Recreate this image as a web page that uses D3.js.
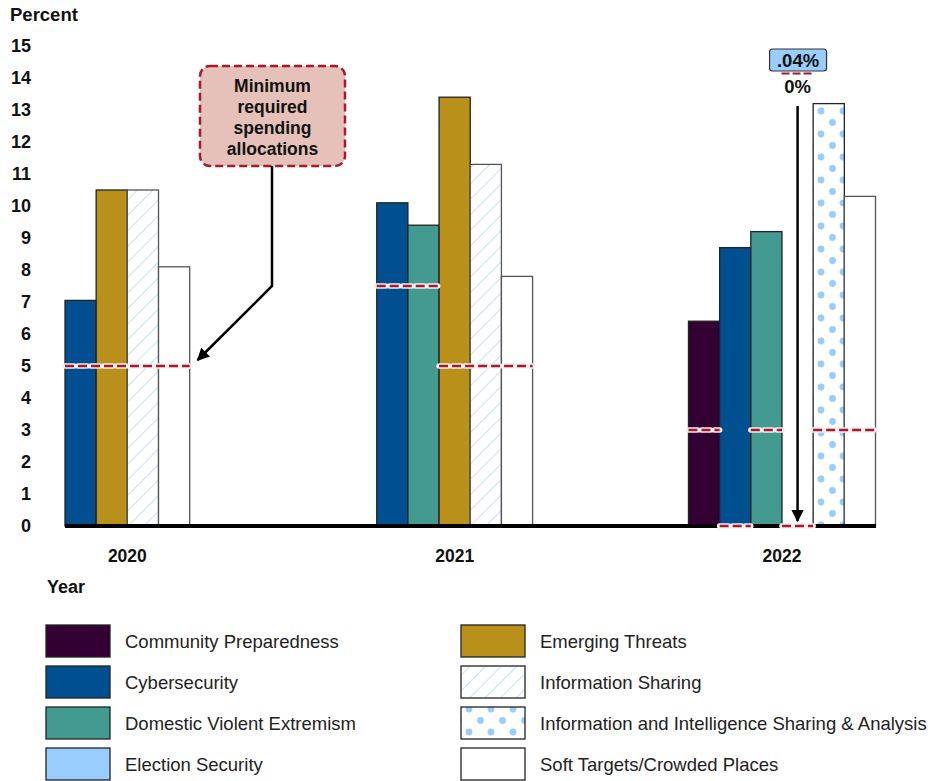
<!DOCTYPE html>
<html>
<head>
<meta charset="utf-8">
<script src="https://cdn.jsdelivr.net/npm/d3@7"></script>
<style>
  body { margin: 0; background: #fff; }
  svg { font-family: "Liberation Sans", Arial, sans-serif; }
</style>
</head>
<body>
<svg id="chart" width="946" height="781"></svg>
<script>
// data
const years = ['2020', '2021', '2022'];
const categories = ['Community Preparedness', 'Cybersecurity', 'Domestic Violent Extremism', 'Election Security',
  'Emerging Threats', 'Information Sharing', 'Information and Intelligence Sharing & Analysis', 'Soft Targets/Crowded Places'];
const colors = ['#330033', '#004f90', '#439a91', '#99ccff', '#b8901a', 'url(#hatch)', 'url(#dots)', '#ffffff'];

const cats2020 = ['Cybersecurity', 'Emerging Threats', 'Information Sharing', 'Soft Targets/Crowded Places'];
const vals2020 = [7.05, 10.5, 10.5, 8.1];
const min2020 = [5, 5, 5, 5];
const cats2021 = ['Cybersecurity', 'Domestic Violent Extremism', 'Emerging Threats', 'Information Sharing', 'Soft Targets/Crowded Places'];
const vals2021 = [10.1, 9.4, 13.4, 11.3, 7.8];
const min2021 = [7.5, 7.5, 5, 5, 5];
const cats2022 = ['Community Preparedness', 'Cybersecurity', 'Domestic Violent Extremism', 'Election Security',
  'Information and Intelligence Sharing & Analysis', 'Soft Targets/Crowded Places'];
const vals2022 = [6.4, 8.7, 9.2, 0.04, 13.2, 10.3];
const min2022 = [3, 0, 3, 0, 3, 3];
const yTicks = d3.range(0, 16);

const groups = [
  {year: '2020', cats: cats2020, vals: vals2020, mins: min2020},
  {year: '2021', cats: cats2021, vals: vals2021, mins: min2021},
  {year: '2022', cats: cats2022, vals: vals2022, mins: min2022}
];

const svg = d3.select('#chart');
const red = '#a6192e';

// patterns
const defs = svg.append('defs');
const hatch = defs.append('pattern').attr('id', 'hatch').attr('patternUnits', 'userSpaceOnUse')
  .attr('width', 11).attr('height', 11).attr('patternTransform', 'rotate(45)');
hatch.append('rect').attr('width', 11).attr('height', 11).attr('fill', '#fff');
hatch.append('line').attr('x1', 0).attr('y1', 0).attr('x2', 0).attr('y2', 11)
  .attr('stroke', '#a8d0f7').attr('stroke-width', 1.3);
const dots = defs.append('pattern').attr('id', 'dots').attr('patternUnits', 'userSpaceOnUse')
  .attr('width', 22).attr('height', 23);
dots.append('rect').attr('width', 22).attr('height', 23).attr('fill', '#fff');
dots.append('circle').attr('cx', 7).attr('cy', 19).attr('r', 3.4).attr('fill', '#99ccff');
dots.append('circle').attr('cx', 18.5).attr('cy', 7.5).attr('r', 3.4).attr('fill', '#99ccff');
defs.append('marker').attr('id', 'arrow').attr('viewBox', '0 0 10 10').attr('refX', 9).attr('refY', 5)
  .attr('markerWidth', 5).attr('markerHeight', 5).attr('orient', 'auto-start-reverse')
  .append('path').attr('d', 'M0,0 L10,5 L0,10 z').attr('fill', '#000');

// scales
const y = d3.scaleLinear().domain([0, 15]).range([526, 46]);
const x0 = d3.scaleBand().domain(years).range([65, 875.5]).paddingInner(0.4).paddingOuter(0);
const slot = x0.bandwidth() / 6;
const color = d3.scaleOrdinal().domain(categories).range(colors);

// y axis labels
svg.append('g').attr('transform', 'translate(31,0)')
  .call(d3.axisLeft(y).tickValues(yTicks).tickSize(0).tickPadding(0))
  .call(g => g.select('.domain').remove())
  .selectAll('text').attr('font-size', 18).attr('font-weight', 'bold').attr('fill', '#111')
  .attr('font-family', '"Liberation Sans", Arial, sans-serif');

svg.append('text').attr('x', 10).attr('y', 21).text('Percent')
  .attr('font-size', 18.5).attr('font-weight', 'bold').attr('fill', '#111');

// bars
groups.forEach(g => {
  const x1 = d3.scaleBand().domain(g.cats).range([x0(g.year), x0(g.year) + slot * g.cats.length]);
  const gg = svg.append('g');
  gg.selectAll('rect').data(g.cats.map((c, i) => ({c, v: g.vals[i]})).filter(d => d.v > 0.1))
    .join('rect')
    .attr('x', d => x1(d.c)).attr('width', x1.bandwidth())
    .attr('y', d => y(d.v)).attr('height', d => y(0) - y(d.v))
    .attr('fill', d => color(d.c))
    .attr('stroke', d => ['Information Sharing', 'Soft Targets/Crowded Places'].includes(d.c) ? '#555' : '#222')
    .attr('stroke-width', 1.3);

  svg.append('text').attr('x', x0(g.year) + slot * g.cats.length / 2).attr('y', 562)
    .attr('text-anchor', 'middle').attr('font-size', 17.5).attr('font-weight', 'bold').attr('fill', '#111')
    .text(g.year);
  g.x1 = x1;
});

// baseline
svg.append('line').attr('x1', 65).attr('x2', 876).attr('y1', y(0)).attr('y2', y(0))
  .attr('stroke', '#000').attr('stroke-width', 4);

// minimum required lines
groups.forEach(g => {
  const segs = [];
  g.cats.forEach((c, i) => {
    const last = segs[segs.length - 1];
    if (last && last.m === g.mins[i]) last.x2 = g.x1(c) + g.x1.bandwidth();
    else segs.push({m: g.mins[i], x1: g.x1(c), x2: g.x1(c) + g.x1.bandwidth()});
  });
  const ml = svg.append('g');
  ml.selectAll('line.halo').data(segs).join('line').attr('class', 'halo')
    .attr('x1', d => d.x1).attr('x2', d => d.x2).attr('y1', d => y(d.m)).attr('y2', d => y(d.m))
    .attr('stroke', '#f4eeee').attr('stroke-width', 5.5).attr('stroke-dasharray', '9,4').attr('stroke-linecap', 'round');
  ml.selectAll('line.red').data(segs).join('line').attr('class', 'red')
    .attr('x1', d => d.x1).attr('x2', d => d.x2).attr('y1', d => y(d.m)).attr('y2', d => y(d.m))
    .attr('stroke', red).attr('stroke-width', 2.6).attr('stroke-dasharray', '9,4');
});

// annotation box
const ann = svg.append('g');
ann.append('rect').attr('x', 200).attr('y', 66).attr('width', 145).attr('height', 100).attr('rx', 10)
  .attr('fill', '#e5c1b9').attr('stroke', red).attr('stroke-width', 2.5).attr('stroke-dasharray', '8,4');
['Minimum', 'required', 'spending', 'allocations'].forEach((t, i) => {
  ann.append('text').attr('x', 272.5).attr('y', 92 + i * 21).attr('text-anchor', 'middle')
    .attr('font-size', 17.5).attr('font-weight', 'bold').attr('fill', '#111').text(t);
});
ann.append('path').attr('d', `M272,166 L272,286 L${x0('2020') + slot * 4 + 8},${y(5) - 6}`)
  .attr('fill', 'none').attr('stroke', '#000').attr('stroke-width', 2.5).attr('marker-end', 'url(#arrow)');

// election security callout
const esx = groups[2].x1('Election Security') + slot / 2;
svg.append('rect').attr('x', esx - 28).attr('y', 49).attr('width', 57).attr('height', 22).attr('rx', 3)
  .attr('fill', '#99ccff').attr('stroke', '#333').attr('stroke-width', 1.2);
svg.append('text').attr('x', esx + 0.5).attr('y', 66.5).attr('text-anchor', 'middle')
  .attr('font-size', 18.5).attr('font-weight', 'bold').attr('fill', '#111').text('.' + '04%');
svg.append('line').attr('x1', esx - 16).attr('x2', esx + 16).attr('y1', 73.5).attr('y2', 73.5)
  .attr('stroke', red).attr('stroke-width', 2.2).attr('stroke-dasharray', '8,3');
svg.append('text').attr('x', esx).attr('y', 93).attr('text-anchor', 'middle')
  .attr('font-size', 18.5).attr('font-weight', 'bold').attr('fill', '#111').text('0%');
svg.append('line').attr('x1', esx).attr('x2', esx).attr('y1', 106).attr('y2', 521)
  .attr('stroke', '#000').attr('stroke-width', 2.5).attr('marker-end', 'url(#arrow)');

// legend
svg.append('text').attr('x', 47).attr('y', 593).text('Year')
  .attr('font-size', 18).attr('font-weight', 'bold').attr('fill', '#111');
const leg = svg.append('g');
categories.forEach((c, i) => {
  const col = Math.floor(i / 4), row = i % 4;
  const lx = col ? 461 : 46, ly = 625 + row * 41;
  leg.append('rect').attr('x', lx).attr('y', ly).attr('width', 64).attr('height', 32)
    .attr('fill', color(c)).attr('stroke', '#222').attr('stroke-width', 1.3);
  leg.append('text').attr('x', lx + 79).attr('y', ly + 22.5).text(c)
    .attr('font-size', 18.5).attr('fill', '#222');
});
</script>
</body>
</html>
